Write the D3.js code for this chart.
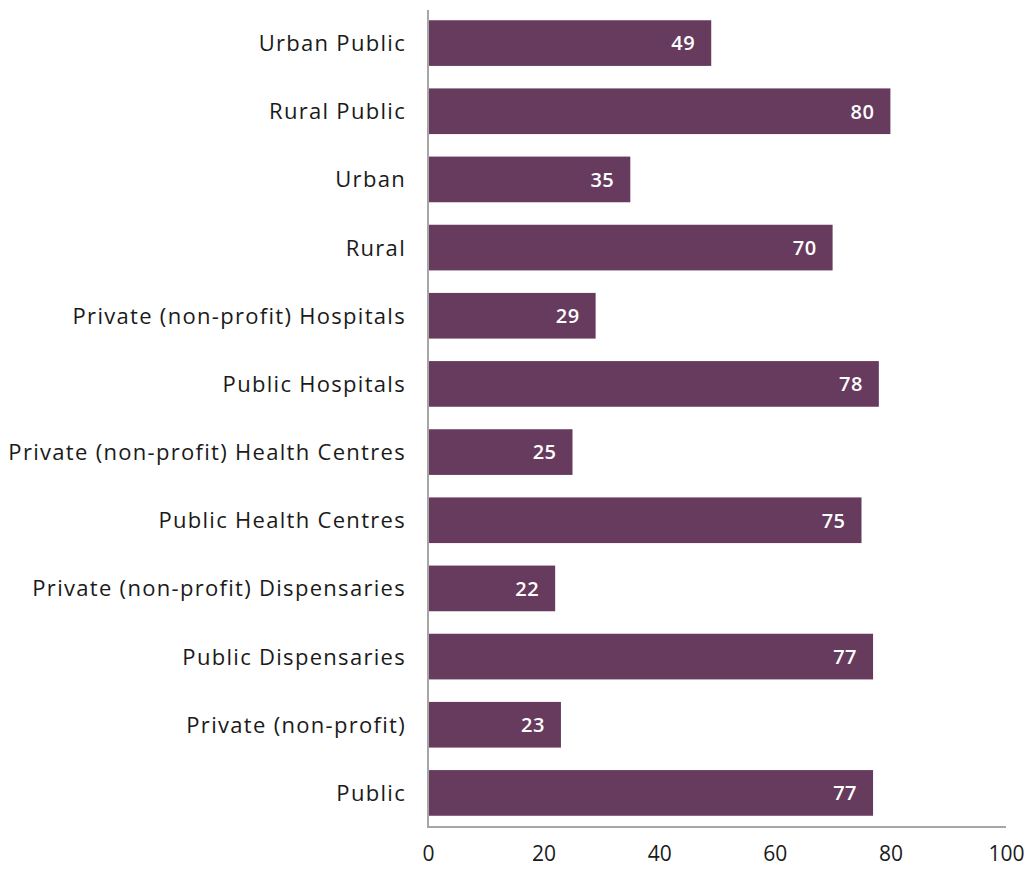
<!DOCTYPE html>
<html>
<head>
<meta charset="utf-8">
<script src="https://cdn.jsdelivr.net/npm/d3@7"></script>
<style>
  html, body { margin: 0; padding: 0; background: #fff; }
  svg { display: block; }
</style>
</head>
<body>
<svg id="chart" width="1029" height="869"></svg>
<script>
// Categories listed top to bottom, with their percentage values
const categories = [
  "Urban Public",
  "Rural Public",
  "Urban",
  "Rural",
  "Private (non-profit) Hospitals",
  "Public Hospitals",
  "Private (non-profit) Health Centres",
  "Public Health Centres",
  "Private (non-profit) Dispensaries",
  "Public Dispensaries",
  "Private (non-profit)",
  "Public"
];
const values = [49, 80, 35, 70, 29, 78, 25, 75, 22, 77, 23, 77];
const xTicks = [0, 20, 40, 60, 80, 100];

const svg = d3.select("#chart");
const plotLeft = 428, plotRight = 1006, plotTop = 9, plotBottom = 827;

const x = d3.scaleLinear().domain([0, 100]).range([plotLeft, plotRight]);
const y = d3.scaleBand().domain(categories).range([plotTop, plotBottom])
  .paddingInner(0.33).paddingOuter(0.165);

const barColor = "#673b5e";
const axisColor = "#a6a6a6";
const labelFont = "'Open Sans', sans-serif";

// Bars
svg.append("g").selectAll("rect")
  .data(categories)
  .join("rect")
  .attr("x", x(0))
  .attr("y", d => y(d))
  .attr("width", (d, i) => x(values[i]) - x(0))
  .attr("height", y.bandwidth())
  .attr("fill", barColor);

// Value labels inside bar ends
svg.append("g").selectAll("text")
  .data(categories)
  .join("text")
  .attr("x", (d, i) => x(values[i]) - 16)
  .attr("y", d => y(d) + y.bandwidth() / 2)
  .attr("dy", "0.37em")
  .attr("text-anchor", "end")
  .attr("fill", "#fff")
  .attr("font-family", labelFont)
  .attr("font-weight", 600)
  .attr("font-size", 20)
  .attr("letter-spacing", 0.5)
  .text((d, i) => values[i]);

// Category axis
const yAxis = svg.append("g")
  .attr("transform", `translate(${plotLeft},0)`)
  .call(d3.axisLeft(y).tickSize(0).tickPadding(22));
yAxis.select(".domain").remove();
yAxis.selectAll("text")
  .attr("font-family", labelFont)
  .attr("font-size", 22)
  .attr("letter-spacing", 1.3)
  .attr("fill", "#1a1a1a")
  .attr("dy", "0.36em");

svg.append("line")
  .attr("x1", plotLeft).attr("x2", plotLeft)
  .attr("y1", 10).attr("y2", plotBottom)
  .attr("stroke", axisColor).attr("stroke-width", 2);

// Value axis
const xAxis = svg.append("g")
  .attr("transform", `translate(0,${plotBottom})`)
  .call(d3.axisBottom(x).tickValues(xTicks).tickSize(0).tickPadding(19));
xAxis.select(".domain").remove();
xAxis.selectAll("text")
  .attr("font-family", labelFont)
  .attr("font-size", 21)
  .attr("fill", "#1a1a1a");

svg.append("line")
  .attr("x1", plotLeft - 1).attr("x2", plotRight)
  .attr("y1", plotBottom).attr("y2", plotBottom)
  .attr("stroke", axisColor).attr("stroke-width", 2);
</script>
</body>
</html>
